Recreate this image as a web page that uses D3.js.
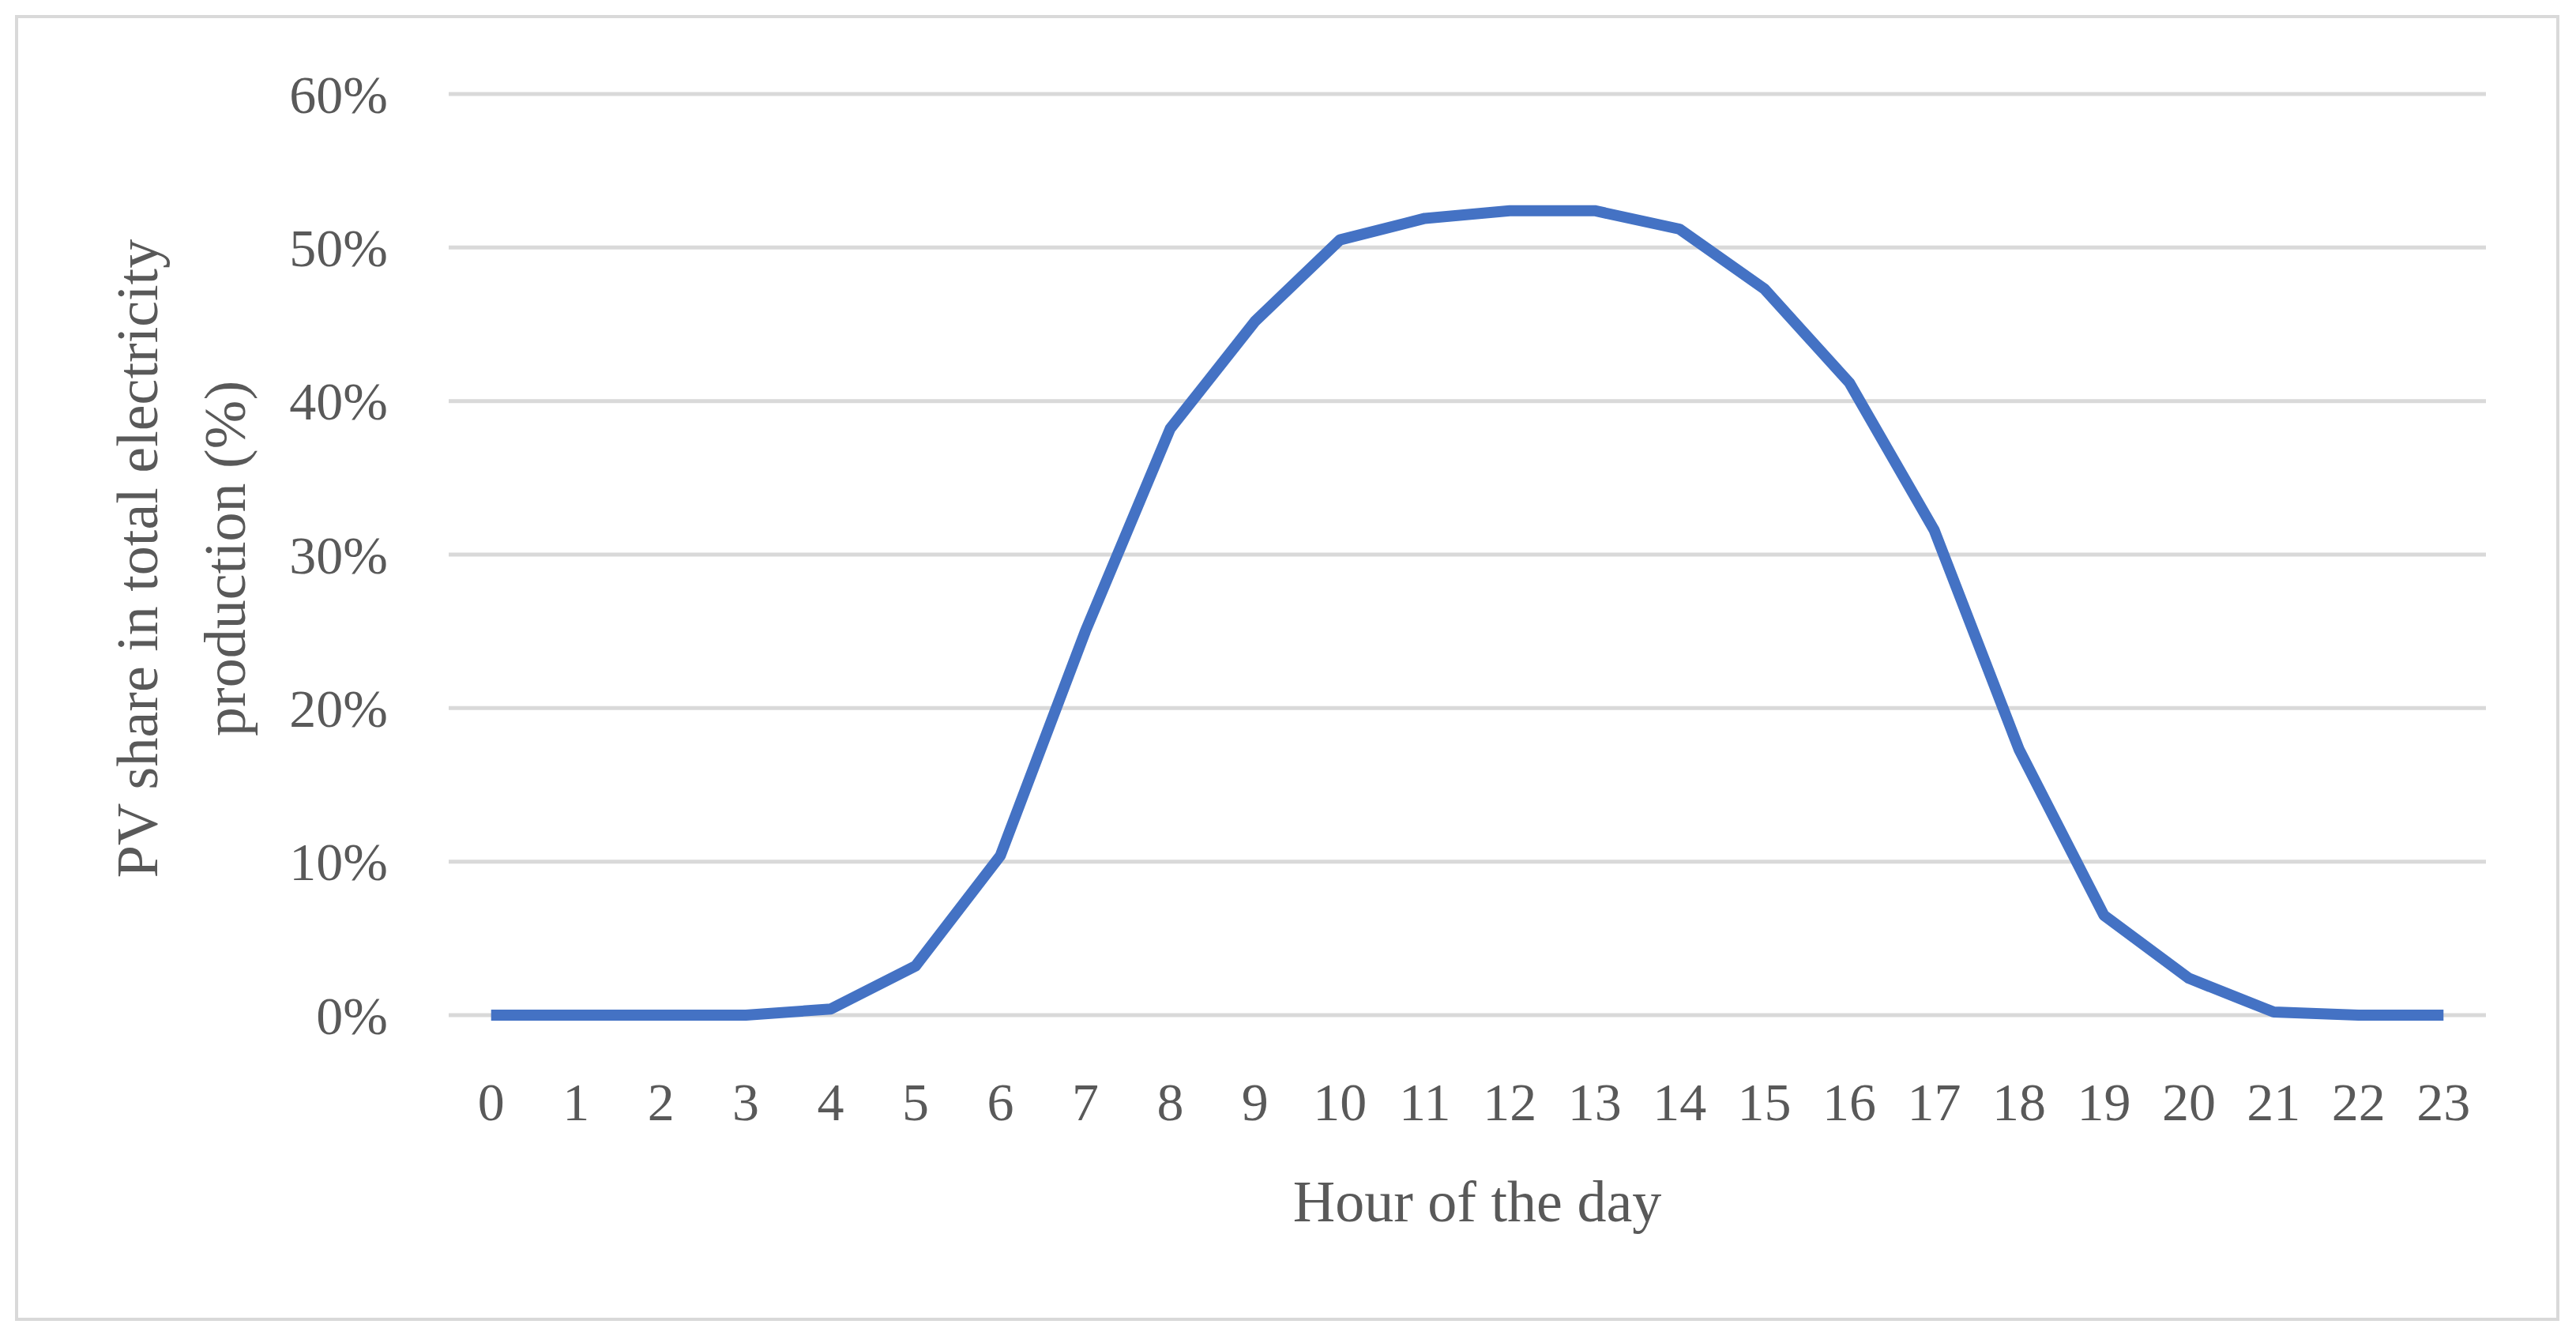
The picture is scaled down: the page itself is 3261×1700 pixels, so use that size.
<!DOCTYPE html>
<head>
  <meta charset="utf-8">
  <style>
    body { margin: 0; background: #fff; }
    text { font-family: "Liberation Serif", "DejaVu Serif", serif; fill: #595959; }
  </style>
</head>
<body>
  <svg width="3261" height="1700"></svg>
  <script src="https://d3js.org/d3.v7.min.js"></script>
  <script>
  var hours = d3.range(0, 24);
  var pvShare = [0, 0, 0, 0, 0.4, 3.2, 10.4, 25, 38.2, 45.2, 50.5, 51.9, 52.4, 52.4, 51.2, 47.3, 41.2, 31.6, 17.3, 6.5, 2.4, 0.2, 0, 0];
  var yTicks = [0, 10, 20, 30, 40, 50, 60];

  var svg = d3.select("svg");

  svg.append("rect")
      .attr("x", 21).attr("y", 21).attr("width", 3217).attr("height", 1649)
      .attr("fill", "none").attr("stroke", "#d9d9d9").attr("stroke-width", 4);

  var x = d3.scalePoint().domain(hours).range([568, 3147]).padding(0.5);
  var y = d3.scaleLinear().domain([0, 60]).range([1285, 119]);

  svg.selectAll(".grid").data(yTicks).enter().append("line")
      .attr("x1", 568).attr("x2", 3147)
      .attr("y1", d => y(d)).attr("y2", d => y(d))
      .attr("stroke", "#d9d9d9").attr("stroke-width", 5);

  svg.selectAll(".ylab").data(yTicks).enter().append("text")
      .attr("x", 491).attr("y", d => y(d)).attr("dy", "0.35em")
      .attr("text-anchor", "end").attr("font-size", 68)
      .text(d => d + "%");

  svg.selectAll(".xlab").data(hours).enter().append("text")
      .attr("x", d => x(d)).attr("y", 1394).attr("dy", "0.35em")
      .attr("text-anchor", "middle").attr("font-size", 68)
      .text(d => d);

  var line = d3.line().x((d, i) => x(hours[i])).y(d => y(d));
  svg.append("path").datum(pvShare)
      .attr("d", line).attr("fill", "none")
      .attr("stroke", "#4472c4").attr("stroke-width", 14)
      .attr("stroke-linejoin", "round");

  svg.append("text")
      .attr("x", 1870).attr("y", 1520).attr("dy", "0.35em")
      .attr("text-anchor", "middle").attr("font-size", 74)
      .text("Hour of the day");

  var yt = svg.append("text")
      .attr("transform", "translate(245,707) rotate(-90)")
      .attr("text-anchor", "middle").attr("font-size", 74);
  yt.append("tspan").attr("x", 0).attr("dy", "-0.62em").text("PV share in total electricity");
  yt.append("tspan").attr("x", 0).attr("dy", "1.5em").text("production (%)");
  </script>
</body>
</html>
